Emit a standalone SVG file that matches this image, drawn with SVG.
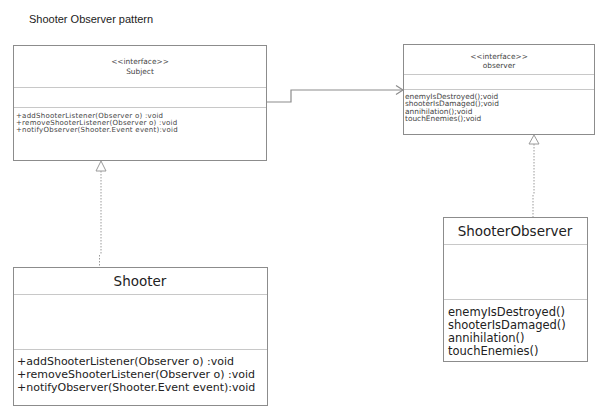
<svg xmlns="http://www.w3.org/2000/svg" width="607" height="418" viewBox="0 0 607 418">
<style>
.box{fill:#fff;stroke:#8c8c8c;stroke-width:1}
.div{stroke:#c8c8c8;stroke-width:1}
.t{font-family:"DejaVu Sans",Verdana,sans-serif;fill:#333}
.s{font-size:7.4px;fill:#444}
.s2{font-size:7px;letter-spacing:0.25px;fill:#444}
.m{font-size:11px;fill:#222}
.m2{font-size:11.5px;fill:#222}
.h{font-size:13.5px;fill:#222}
.edge{fill:none;stroke:#8c8c8c;stroke-width:1.2}
.dot{fill:none;stroke:#9a9a9a;stroke-width:1;stroke-dasharray:1.5 1.5}
.tri{fill:#fff;stroke:#9a9a9a;stroke-width:1}
</style>
<text x="29" y="23" font-family="Liberation Sans, Arial, sans-serif" font-size="11" fill="#222">Shooter Observer pattern</text>
<g id="subject">
<rect class="box" x="13.5" y="45.5" width="253" height="115"/>
<line class="div" x1="14" y1="87.5" x2="266" y2="87.5"/>
<line class="div" x1="14" y1="107.5" x2="266" y2="107.5"/>
<text class="t s" x="140" y="64" text-anchor="middle">&lt;&lt;interface&gt;&gt;</text>
<text class="t s" x="140" y="74" text-anchor="middle">Subject</text>
<text class="t s2" x="16" y="117.5">+addShooterListener(Observer o) :void</text>
<text class="t s2" x="16" y="124.5">+removeShooterListener(Observer o) :void</text>
<text class="t s2" x="16" y="131.5">+notifyObserver(Shooter.Event event):void</text>
</g>
<g id="observer">
<rect class="box" x="403.5" y="44.5" width="191" height="90"/>
<line class="div" x1="404" y1="74.5" x2="594" y2="74.5"/>
<line class="div" x1="404" y1="89.5" x2="594" y2="89.5"/>
<text class="t s" x="499" y="59" text-anchor="middle">&lt;&lt;interface&gt;&gt;</text>
<text class="t s" x="499" y="67.5" text-anchor="middle">observer</text>
<text class="t s" x="405" y="98.5">enemyIsDestroyed();void</text>
<text class="t s" x="405" y="106">shooterIsDamaged();void</text>
<text class="t s" x="405" y="113.5">annihilation();void</text>
<text class="t s" x="405" y="121">touchEnemies();void</text>
</g>
<g id="shooter">
<rect class="box" x="13.5" y="267.5" width="254" height="138"/>
<line class="div" x1="14" y1="294.5" x2="267" y2="294.5"/>
<line class="div" x1="14" y1="349.5" x2="267" y2="349.5"/>
<text class="t h" x="140" y="286" text-anchor="middle">Shooter</text>
<text class="t m" x="17" y="365">+addShooterListener(Observer o) :void</text>
<text class="t m" x="17" y="378">+removeShooterListener(Observer o) :void</text>
<text class="t m" x="17" y="391">+notifyObserver(Shooter.Event event):void</text>
</g>
<g id="shooterobserver">
<rect class="box" x="443.5" y="217.5" width="144" height="144"/>
<line class="div" x1="444" y1="244.5" x2="587" y2="244.5"/>
<line class="div" x1="444" y1="299.5" x2="587" y2="299.5"/>
<text class="t h" x="515" y="236" text-anchor="middle">ShooterObserver</text>
<text class="t m2" x="448" y="316">enemyIsDestroyed()</text>
<text class="t m2" x="448" y="329">shooterIsDamaged()</text>
<text class="t m2" x="448" y="342">annihilation()</text>
<text class="t m2" x="448" y="355">touchEnemies()</text>
</g>
<g id="connectors">
<polyline class="edge" points="267,102 291,102 291,90 402,90"/>
<polyline class="edge" points="396,85.5 403,90 396,94.5"/>
<line class="dot" x1="101" y1="171" x2="101" y2="255"/>
<line class="dot" x1="99.5" y1="255" x2="99.5" y2="267"/>
<polygon class="tri" points="101,161 96,171 106,171"/>
<line class="dot" x1="534" y1="144" x2="534" y2="195"/>
<line class="dot" x1="533" y1="195" x2="533" y2="217"/>
<polygon class="tri" points="534,135 529,144 539,144"/>
</g>
</svg>
